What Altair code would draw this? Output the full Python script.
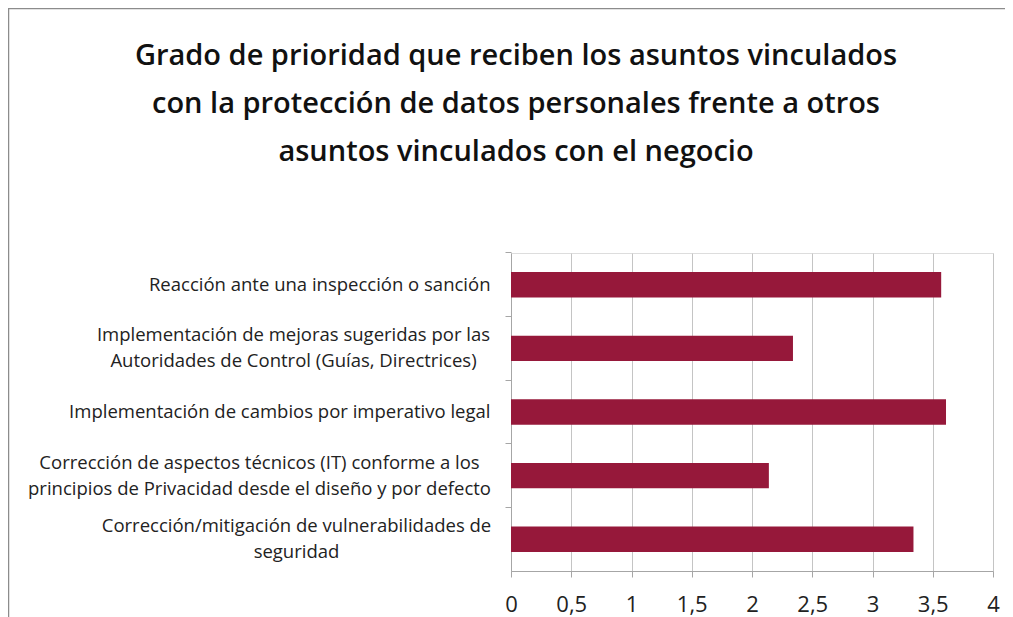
import altair as alt
import pandas as pd

categories = [
    "Reacción ante una inspección o sanción",
    "Implementación de mejoras sugeridas por las|Autoridades de Control (Guías, Directrices)",
    "Implementación de cambios por imperativo legal",
    "Corrección de aspectos técnicos (IT) conforme a los|principios de Privacidad desde el diseño y por defecto",
    "Corrección/mitigación de vulnerabilidades de|seguridad",
]
values = [3.57, 2.34, 3.61, 2.14, 3.34]
x_ticks = [0, 0.5, 1, 1.5, 2, 2.5, 3, 3.5, 4]
title_lines = [
    "Grado de prioridad que reciben los asuntos vinculados",
    "con la protección de datos personales frente a otros",
    "asuntos vinculados con el negocio",
]

df = pd.DataFrame({"cat": categories, "val": values})

W, H = 482, 318
PL, PT, PR, PB = 503, 245, 12, 46

multi_pad = {categories[1]: 212, categories[3]: 246, categories[4]: 209}
pad_cond = [{"test": "datum.value === " + '"' + c + '"', "value": p} for c, p in multi_pad.items()]
multi_test = "indexof(datum.value, '|') >= 0"
align_cond = [{"test": multi_test, "value": "center"}]
offset_cond = [{"test": multi_test, "value": -13}]

bars = alt.Chart(df).mark_bar(color="#96183a").encode(
    x=alt.X(
        "val:Q",
        scale=alt.Scale(domain=[0, 4], nice=False),
        axis=alt.Axis(
            values=x_ticks,
            title=None,
            labelExpr="replace('' + datum.value, '.', ',')",
            labelFont="Open Sans",
            labelFontSize=22,
            labelColor="#222222",
            labelPadding=17,
            tickSize=6,
            tickColor="#a6a6a6",
            domainColor="#a6a6a6",
            grid=True,
            gridColor="#c4c4c4",
            labelFlush=False,
        ),
    ),
    y=alt.Y(
        "cat:N",
        sort=categories,
        scale=alt.Scale(paddingInner=0.6, paddingOuter=0.3),
        axis=alt.Axis(
            title=None,
            labelExpr="split(datum.label, '|')",
            labelFont="Open Sans",
            labelFontSize=18.5,
            labelColor="#222222",
            labelLineHeight=26,
            labelLimit=600,
            labelBaseline="middle",
            labelAlign={"condition": align_cond, "value": "right"},
            labelPadding={"condition": pad_cond, "value": 15},
            labelOffset={"condition": offset_cond, "value": 0},
            tickSize=6,
            tickColor="#a6a6a6",
            domainColor="#a6a6a6",
            bandPosition=-0.75,
            grid=False,
        ),
    ),
)

frame = alt.Chart(alt.Data(values=[{}])).mark_rule(color="#8c8c8c", strokeWidth=1.5)
left_line = frame.encode(x=alt.value(-502.5), y=alt.value(-245), y2=alt.value(H + PB))
top_line = frame.encode(y=alt.value(-244.5), x=alt.value(-503), x2=alt.value(W + PR))

chart = (
    alt.layer(bars, left_line, top_line)
    .properties(
        width=W,
        height=H,
        padding={"left": PL, "top": PT, "right": PR, "bottom": PB},
        autosize=alt.AutoSizeParams(type="none"),
        title=alt.TitleParams(
            text=title_lines,
            font="Open Sans",
            fontSize=29,
            fontWeight=600,
            color="#111111",
            lineHeight=48,
            anchor="middle",
            frame="group",
            dx=-236,
            offset=0,
            dy=160,
        ),
    )
    .configure_view(stroke=None)
    .configure(background="white")
)

chart.save("out.html", embed_options={"renderer": "svg", "actions": False})
